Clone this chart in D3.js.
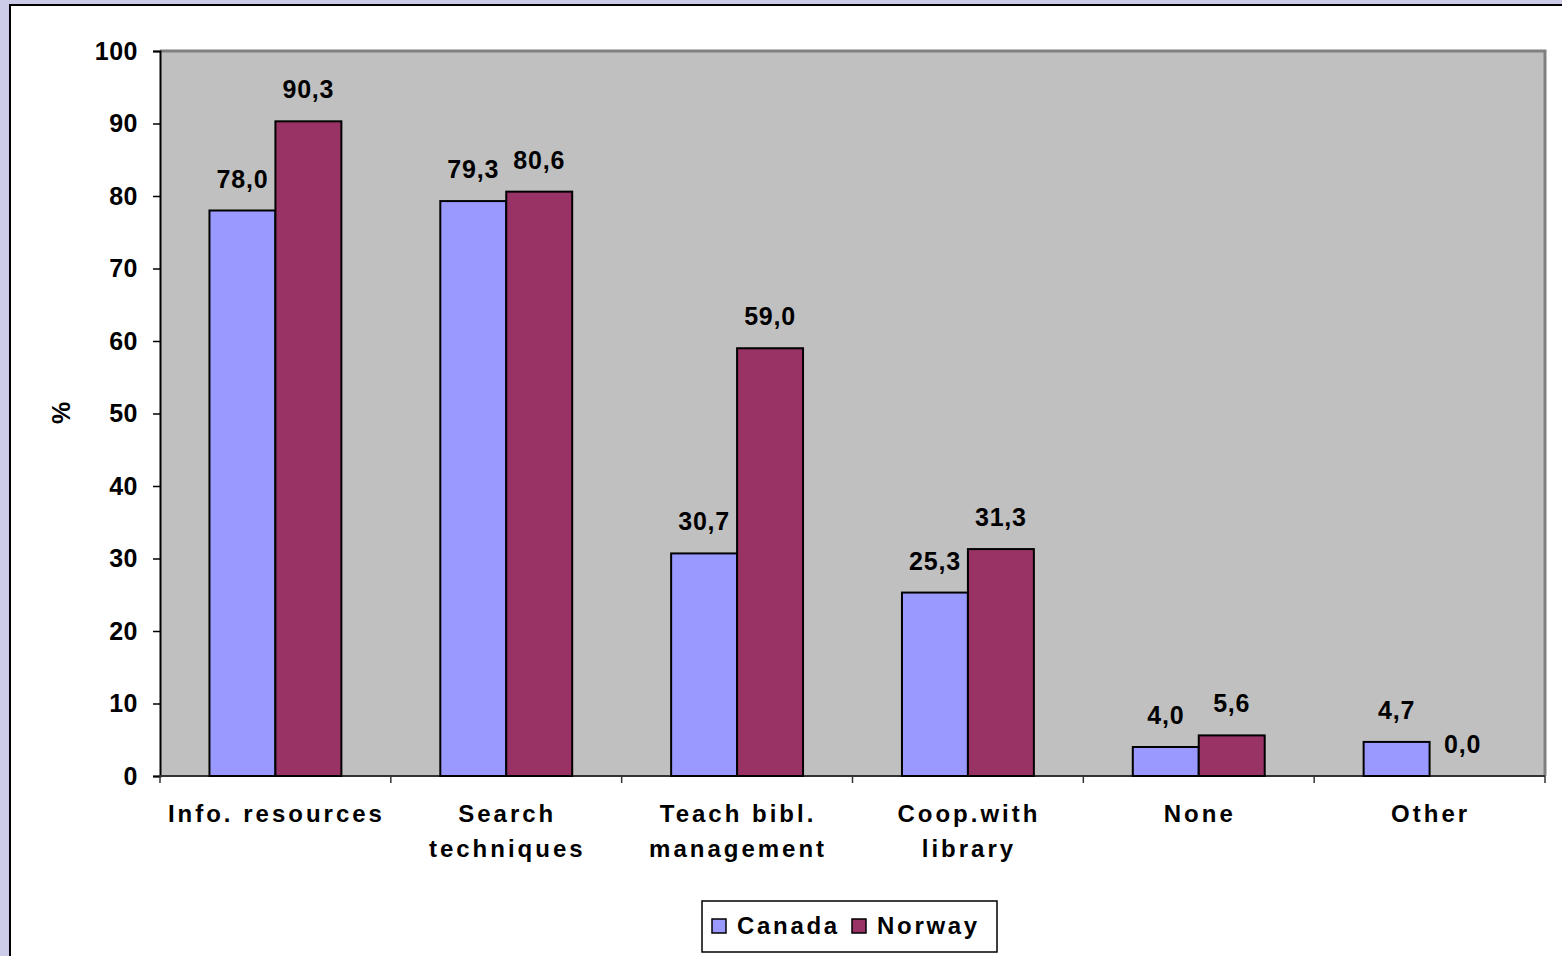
<!DOCTYPE html>
<html>
<head>
<meta charset="utf-8">
<script src="https://cdn.jsdelivr.net/npm/d3@7"></script>
<style>
  html, body { margin: 0; padding: 0; background: #CCCCE8; overflow: hidden; }
  svg { display: block; font-family: "Liberation Sans", Arial, sans-serif; font-weight: bold; }
</style>
</head>
<body>
<svg id="chart"></svg>
<script>
// data
const categories = [["Info. resources"], ["Search", "techniques"], ["Teach bibl.", "management"], ["Coop.with", "library"], ["None"], ["Other"]];
const seriesNames = ["Canada", "Norway"];
const canada = [78.0, 79.3, 30.7, 25.3, 4.0, 4.7];
const norway = [90.3, 80.6, 59.0, 31.3, 5.6, 0.0];
const yTicks = [0, 10, 20, 30, 40, 50, 60, 70, 80, 90, 100];
const colors = ["#9999FF", "#993366"];

const width = 1562;
const height = 956;
const plot = { left: 160, right: 1545, top: 51, bottom: 776 };

const svg = d3.select("#chart")
    .attr("width", width)
    .attr("height", height);

// white chart area
svg.append("rect")
    .attr("x", 10).attr("y", 5)
    .attr("width", 1600).attr("height", 1000)
    .attr("fill", "#fff")
    .attr("stroke", "#000")
    .attr("stroke-width", 2);

const x0 = d3.scaleBand()
    .domain(d3.range(categories.length))
    .range([plot.left, plot.right]);

const x1 = d3.scaleBand()
    .domain([0, 1])
    .range([0, x0.bandwidth()])
    .paddingOuter(0.75)
    .paddingInner(0);

const y = d3.scaleLinear()
    .domain([0, 100])
    .range([plot.bottom, plot.top]);

// plot area
svg.append("rect")
    .attr("x", plot.left).attr("y", plot.top)
    .attr("width", plot.right - plot.left)
    .attr("height", plot.bottom - plot.top)
    .attr("fill", "#C0C0C0");
svg.append("path")
    .attr("d", `M${plot.left},${plot.top}H${plot.right}V${plot.bottom}`)
    .attr("fill", "none")
    .attr("stroke", "#808080")
    .attr("stroke-width", 3);

// y axis
const yAxis = svg.append("g")
    .attr("transform", `translate(${plot.left},0)`)
    .call(d3.axisLeft(y).tickValues(yTicks).tickSize(7).tickPadding(15));
yAxis.select(".domain").attr("stroke", "#000").attr("stroke-width", 2);
yAxis.selectAll(".tick line").attr("stroke", "#000").attr("stroke-width", 1.5);
yAxis.selectAll("text")
    .attr("font-size", 25)
    .attr("letter-spacing", 0.5)
    .attr("font-family", "Liberation Sans, Arial, sans-serif")
    .attr("font-weight", "bold")
    .attr("fill", "#000");

svg.append("text")
    .attr("transform", "translate(70,413) rotate(-90)")
    .attr("text-anchor", "middle")
    .attr("font-size", 25)
    .text("%");

// x axis
const xAxis = svg.append("g")
    .attr("transform", `translate(0,${plot.bottom})`);
xAxis.append("line")
    .attr("x1", plot.left).attr("x2", plot.right)
    .attr("stroke", "#333").attr("stroke-width", 2);
xAxis.selectAll(".tk")
    .data(d3.range(categories.length + 1))
    .enter().append("line")
    .attr("x1", i => i < categories.length ? x0(i) : plot.right)
    .attr("x2", i => i < categories.length ? x0(i) : plot.right)
    .attr("y1", 0).attr("y2", 7)
    .attr("stroke", "#333").attr("stroke-width", 1.5);

const catLabels = svg.append("g")
    .selectAll("text")
    .data(categories)
    .enter().append("text")
    .attr("text-anchor", "middle")
    .attr("font-size", 24)
    .attr("letter-spacing", 3)
    .attr("x", (d, i) => x0(i) + x0.bandwidth() / 2 + 1)
    .attr("y", 822);
catLabels.selectAll("tspan")
    .data(d => d)
    .enter().append("tspan")
    .attr("x", function() { return d3.select(this.parentNode).attr("x"); })
    .attr("dy", (d, i) => i === 0 ? 0 : 35)
    .text(d => d);

// bars
const series = [canada, norway];
series.forEach((vals, s) => {
    svg.append("g")
        .selectAll("rect")
        .data(vals)
        .enter().append("rect")
        .attr("x", (d, i) => x0(i) + x1(s))
        .attr("y", d => y(d))
        .attr("width", x1.bandwidth())
        .attr("height", d => y(0) - y(d))
        .attr("fill", colors[s])
        .attr("stroke", "#000")
        .attr("stroke-width", 2)
        .attr("display", d => d > 0 ? null : "none");

    svg.append("g")
        .selectAll("text")
        .data(vals)
        .enter().append("text")
        .attr("text-anchor", "middle")
        .attr("font-size", 25)
        .attr("letter-spacing", 0.8)
        .attr("x", (d, i) => x0(i) + x1(s) + x1.bandwidth() / 2)
        .attr("y", d => y(d) - 23)
        .text(d => d.toFixed(1).replace(".", ","));
});

// legend
const legend = svg.append("g").attr("transform", "translate(702,901)");
legend.append("rect")
    .attr("width", 295).attr("height", 51)
    .attr("fill", "#fff").attr("stroke", "#000").attr("stroke-width", 1.5);
const legendX = [10, 150];
seriesNames.forEach((name, s) => {
    legend.append("rect")
        .attr("x", legendX[s]).attr("y", 18)
        .attr("width", 14).attr("height", 14)
        .attr("fill", colors[s]).attr("stroke", "#000").attr("stroke-width", 1.5);
    legend.append("text")
        .attr("x", legendX[s] + 25).attr("y", 33)
        .attr("font-size", 24)
        .attr("letter-spacing", 2.7)
        .text(name);
});
</script>
</body>
</html>
